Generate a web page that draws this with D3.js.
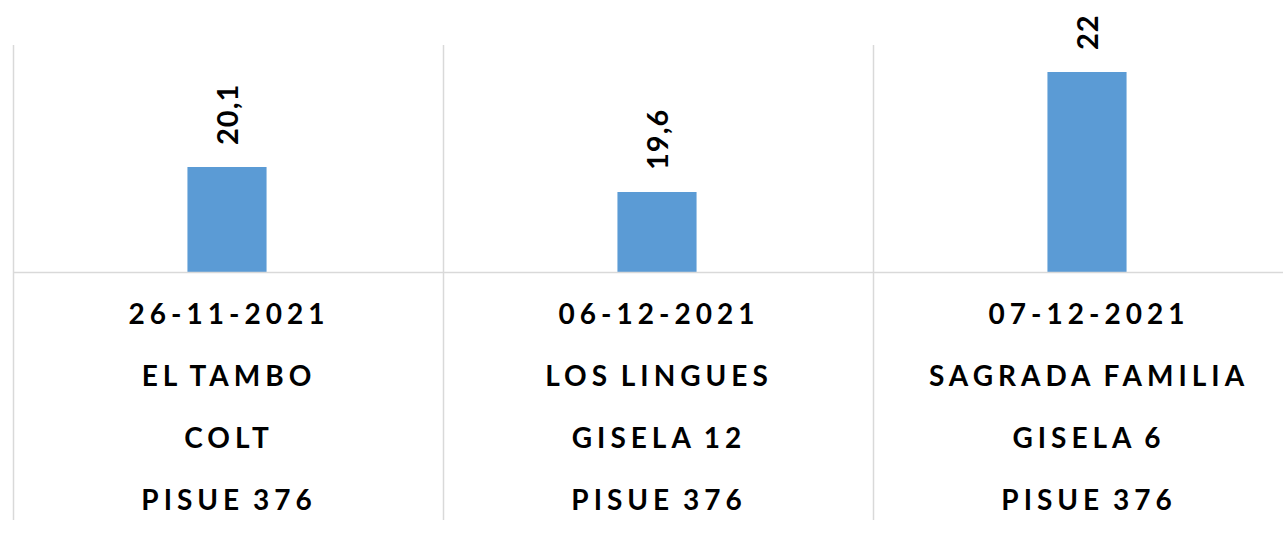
<!DOCTYPE html>
<html>
<head>
<meta charset="utf-8">
<script src="https://cdn.jsdelivr.net/npm/d3@7"></script>
<style>
  body { margin: 0; background: #fff; }
  svg { display: block; }
</style>
</head>
<body>
<div id="chart"></div>
<script>

// ### DATA
var dates = ["26-11-2021", "06-12-2021", "07-12-2021"];
var places = ["EL TAMBO", "LOS LINGUES", "SAGRADA FAMILIA"];
var models = ["COLT", "GISELA 12", "GISELA 6"];
var programs = ["PISUE 376", "PISUE 376", "PISUE 376"];
var values = [20.1, 19.6, 22];

var width = 1283, height = 535;

var svg = d3.select("#chart").append("svg")
    .attr("width", width)
    .attr("height", height);

// category slots, last one runs past the right edge
var x = d3.scaleBand()
    .domain(dates)
    .range([13, 1303]);

// value axis does not start at zero
var y = d3.scaleLinear()
    .domain([18, 23])
    .range([272, 22]);

var fmt = d3.formatLocale({ decimal: ",", thousands: ".", grouping: [3], currency: ["", ""] }).format("~g");

var barW = x.bandwidth() * 0.184;
var font = "Lato, 'Open Sans', sans-serif";

// vertical dividers between categories
svg.selectAll("line.divider")
    .data(dates)
    .enter().append("line")
    .attr("class", "divider")
    .attr("x1", function(d) { return x(d) + 0.5; })
    .attr("x2", function(d) { return x(d) + 0.5; })
    .attr("y1", 45)
    .attr("y2", 520)
    .attr("stroke", "#d9d9d9")
    .attr("stroke-width", 1.5);

// bars
svg.selectAll("rect.bar")
    .data(values)
    .enter().append("rect")
    .attr("class", "bar")
    .attr("x", function(d, i) { return x(dates[i]) + x.bandwidth() / 2 - barW / 2 - 1; })
    .attr("y", function(d) { return y(d); })
    .attr("width", barW)
    .attr("height", function(d) { return y(18) - y(d); })
    .attr("fill", "#5b9bd5");

// baseline
svg.append("line")
    .attr("x1", 13)
    .attr("x2", width)
    .attr("y1", y(18) + 0.5)
    .attr("y2", y(18) + 0.5)
    .attr("stroke", "#d9d9d9")
    .attr("stroke-width", 1.5);

// value labels, rotated
svg.selectAll("text.value")
    .data(values)
    .enter().append("text")
    .attr("class", "value")
    .attr("transform", function(d, i) {
      var cx = x(dates[i]) + x.bandwidth() / 2 + 10;
      return "translate(" + cx + "," + (y(d) - 22) + ") rotate(-90)";
    })
    .attr("text-anchor", "start")
    .style("font-family", font)
    .style("font-weight", "bold")
    .style("font-size", "29px")
    .style("letter-spacing", "1px")
    .attr("fill", "#000")
    .text(function(d) { return fmt(d); });

// multi-line category labels
var lines = [dates, places, models, programs];
var baselines = [324, 386, 448, 510];

lines.forEach(function(arr, li) {
  svg.selectAll("text.cat" + li)
      .data(arr)
      .enter().append("text")
      .attr("class", "cat" + li)
      .attr("x", function(d, i) { return x(dates[i]) + x.bandwidth() / 2 + 1; })
      .attr("y", baselines[li])
      .attr("text-anchor", "middle")
      .style("font-family", font)
      .style("font-weight", "bold")
      .style("font-size", "28px")
      .style("letter-spacing", "5px")
      .style("word-spacing", "-3px")
      .attr("fill", "#000")
      .text(function(d) { return d; });
});

</script>
</body>
</html>
